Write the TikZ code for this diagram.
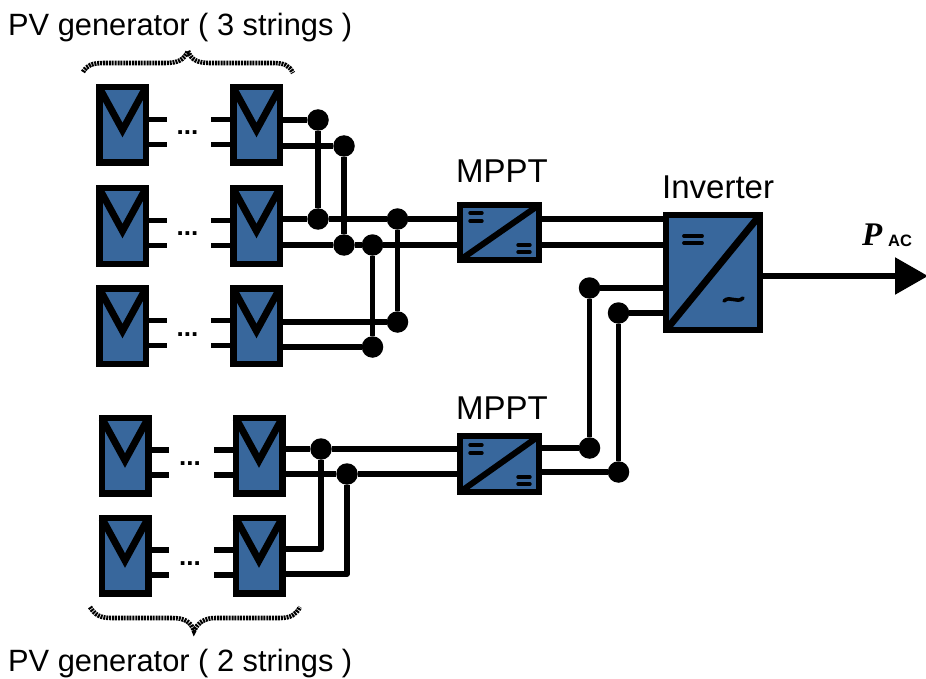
\documentclass[tikz,border=0pt]{standalone}
\usepackage{fontspec}
\setmainfont{Liberation Sans}
\usetikzlibrary{arrows.meta}
\definecolor{pvblue}{HTML}{38679C}
\tikzset{
  panel/.style={draw=black,fill=pvblue,line width=6.5pt,minimum width=46.5pt,minimum height=75.5pt,outer sep=0pt,inner sep=0pt},
  conv/.style={draw=black,fill=pvblue,line width=6pt,outer sep=0pt,inner sep=0pt},
  wire/.style={line width=5.5pt,line join=round},
  sym/.style={line width=3.4pt,line cap=round},
  junction/.style={circle,fill=black,minimum size=21.5pt,inner sep=0pt,outer sep=0pt},
  label/.style={anchor=base west,inner sep=0pt,font=\fontsize{30.8}{30.8}\selectfont},
  blocklabel/.style={anchor=base west,inner sep=0pt,font=\fontsize{33}{33}\selectfont},
  brace/.style={line width=4.6pt,dash pattern=on 2pt off 0.9pt,line cap=butt},
  dotsmark/.style={anchor=base,inner sep=0pt,font=\bfseries\fontsize{26}{26}\selectfont}
}
\newcommand{\pvpanel}[3]{%
  \node[panel] (#1) at (#2,#3) {};
  \draw[line width=7pt,line join=miter] (#2-23,#3-37) -- (#2,#3+5) -- (#2+23,#3-37);
}
\begin{document}
\begin{tikzpicture}[x=1pt,y=-1pt]
\useasboundingbox (0,0) rectangle (926,679);
\fill[white] (0,0) rectangle (926,679);
% stubs and panels
\foreach \n/\xa/\xb/\y in {a/122.5/256.5/125,b/122.5/256.5/226,c/122.5/256.5/326,d/125/259/455.5,e/125/259/555.5}{
  \coordinate (\n up) at (0,\y-5.5);
  \coordinate (\n lo) at (0,\y+19.5);
  \pvpanel{\n L}{\xa}{\y}
  \pvpanel{\n R}{\xb}{\y}
  \draw[wire] (\n L.east |- \n up) -- +(21,0);
  \draw[wire] (\n L.east |- \n lo) -- +(21,0);
  \draw[wire] (\n R.west |- \n up) -- +(-22,0);
  \draw[wire] (\n R.west |- \n lo) -- +(-22,0);
  \node[dotsmark] (\n dots) at ({(\xa+\xb)/2-2},\y+10) {...};
}
% converters
\node[conv,minimum width=79pt,minimum height=55pt] (m1) at (499.5,232.5) {};
\node[conv,minimum width=79pt,minimum height=56pt] (m2) at (499.5,464) {};
\node[conv,minimum width=94pt,minimum height=115pt] (inv) at (713,272.5) {};
\draw[line width=6pt] (m1.south west) -- (m1.north east);
\draw[line width=6pt] (m2.south west) -- (m2.north east);
\draw[line width=7pt] (inv.south west) -- (inv.north east);
\draw[sym] (470,213) -- (482,213) (470,221) -- (482,221) (518,245) -- (530,245) (518,252) -- (530,252);
\draw[sym] (470,445) -- (482,445) (470,453) -- (482,453) (518,477) -- (530,477) (518,484) -- (530,484);
\draw[line width=3.8pt,line cap=round] (684,236) -- (702,236) (684,243) -- (702,243);
\draw[line width=3.6pt,line cap=round] (724,301) .. controls (730,295) and (737,304) .. (743,298);
% junctions
\node[junction] (j1) at (318,120) {};
\node[junction] (j2) at (344,146) {};
\node[junction] (j3) at (318,219) {};
\node[junction] (j4) at (344,245) {};
\node[junction] (j5) at (372.5,245) {};
\node[junction] (j6) at (397.5,219) {};
\node[junction] (j7) at (397.5,322) {};
\node[junction] (j8) at (372.5,347) {};
\node[junction] (j9) at (321,449) {};
\node[junction] (j10) at (347,474) {};
\node[junction] (j11) at (589.5,448) {};
\node[junction] (j12) at (618.5,472) {};
\node[junction] (j13) at (589.5,288) {};
\node[junction] (j14) at (618.5,313) {};
% wires
\draw[wire] (aR.east |- j1) -- (j1);
\draw[wire] (aR.east |- j2) -- (j2);
\draw[wire] (j1) -- (j3);
\draw[wire] (j2) -- (j4);
\draw[wire] (bR.east |- j3) -- (j3) -- (j6) -- (m1.west |- j6);
\draw[wire] (bR.east |- j4) -- (j4) -- (j5) -- (m1.west |- j5);
\draw[wire] (cR.east |- j7) -- (j7) -- (j6);
\draw[wire] (cR.east |- j8) -- (j8) -- (j5);
\draw[wire] (m1.east |- j6) -- (inv.west |- j6);
\draw[wire] (m1.east |- j5) -- (inv.west |- j5);
\draw[wire] (dR.east |- j9) -- (j9) -- (m2.west |- j9);
\draw[wire] (dR.east |- j10) -- (j10) -- (m2.west |- j10);
\coordinate (e1) at (0,549);
\coordinate (e2) at (0,574);
\draw[wire] (eR.east |- e1) -- (j9 |- e1) -- (j9);
\draw[wire] (eR.east |- e2) -- (j10 |- e2) -- (j10);
\draw[wire] (m2.east |- j11) -- (j11) -- (j13) -- (inv.west |- j13);
\draw[wire] (m2.east |- j12) -- (j12) -- (j14) -- (inv.west |- j14);
\coordinate (out) at (928,276);
\draw[wire,-{Triangle[length=33pt,width=36pt]}] (inv.east |- out) -- (out);
% braces
\draw[brace] (83,72) .. controls (87,65) and (92,63) .. (105,63) -- (165,63) .. controls (178,63) and (184,60) .. (188,51) .. controls (191,60) and (198,63) .. (210,63) -- (272,63) .. controls (284,63) and (289,65) .. (293,73);
\draw[brace] (90,607) .. controls (95,615) and (100,618) .. (112,618) -- (172,618) .. controls (185,618) and (191,622) .. (194,631) .. controls (198,622) and (205,618) .. (216,618) -- (280,618) .. controls (290,618) and (296,615) .. (300,607);
% labels
\node[label] (t1) at (8,36) {PV generator ( 3 strings )};
\node[label] (t2) at (8,671) {PV generator ( 2 strings )};
\node[blocklabel] (t3) at (456,183) {MPPT};
\node[blocklabel] (t4) at (456,419) {MPPT};
\node[blocklabel] (t5) at (662,199) {Inverter};
\node[anchor=base west,inner sep=0pt] (t6) at (862,245) {\fontspec{Liberation Serif}\fontsize{33}{33}\selectfont\bfseries\itshape P};
\node[anchor=base west,inner sep=0pt] (t7) at (888,247) {\fontsize{16.5}{16.5}\selectfont\bfseries AC};
\end{tikzpicture}
\end{document}
